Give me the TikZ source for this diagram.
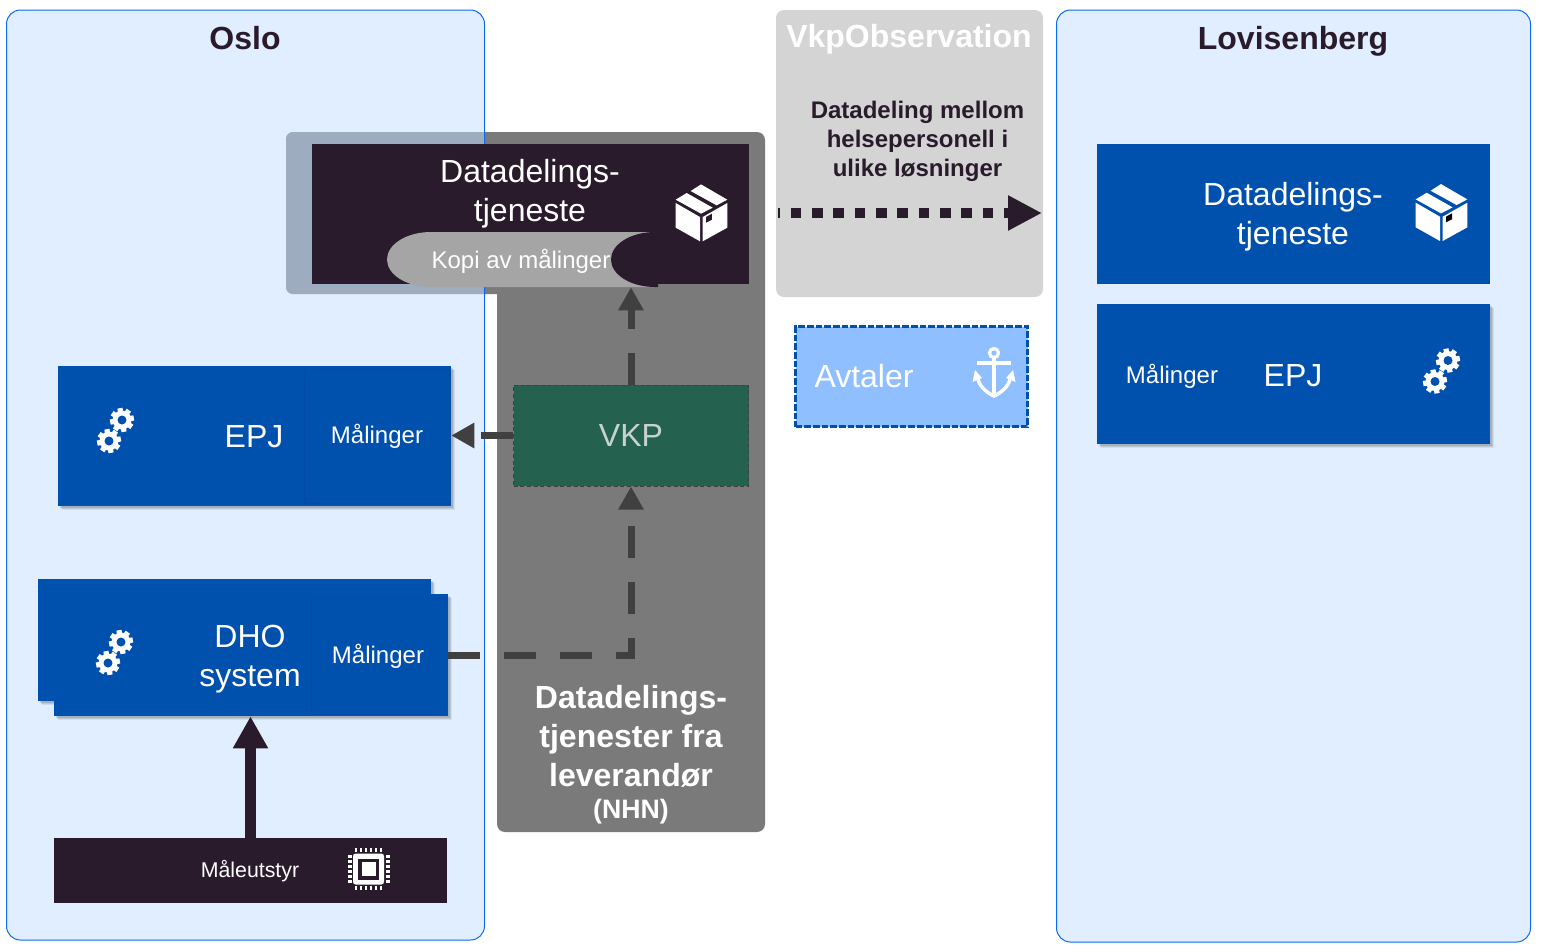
\documentclass[tikz,border=0pt]{standalone}
\usepackage{fontspec}
\setmainfont{Liberation Sans}
\usetikzlibrary{arrows.meta, shadows}
\definecolor{zonefill}{HTML}{E0EEFF}
\definecolor{zoneline}{HTML}{0A6CEB}
\definecolor{sysblue}{HTML}{0050AE}
\definecolor{sysline}{HTML}{004CA6}
\definecolor{darkplum}{HTML}{291B2C}
\definecolor{panelgray}{HTML}{7A7A7A}
\definecolor{panelblue}{HTML}{9DADBF}
\definecolor{obsgray}{HTML}{D4D4D4}
\definecolor{pillgray}{HTML}{A5A5A5}
\definecolor{vkpgreen}{HTML}{25614F}
\definecolor{vkptext}{HTML}{C6D2CD}
\definecolor{agreeblue}{HTML}{90BFFF}
\definecolor{flowgray}{HTML}{404040}
\newcommand{\bigtxt}{\fontsize{24}{29.25}\selectfont}
\newcommand{\midtxt}{\fontsize{18}{21.75}\selectfont}
\tikzset{%
  sysbox/.style={fill=sysblue, minimum width=#1*0.75pt, inner sep=0pt,
                 drop shadow={shadow xshift=3pt, shadow yshift=-3pt, fill=black, opacity=0.07},
                 drop shadow={shadow xshift=2.2pt, shadow yshift=-2.2pt, fill=black, opacity=0.09},
                 drop shadow={shadow xshift=1.4pt, shadow yshift=-1.4pt, fill=black, opacity=0.12}},
  subbox/.style={draw=sysline, line width=0.4pt, inner sep=0pt, text=white, font=\midtxt},
  zonetitle/.style={font=\bigtxt\bfseries, text=darkplum},
  bigwhite/.style={font=\bigtxt, text=white, align=center},
  midwhite/.style={font=\midtxt, text=white},
  flow/.style={line width=5.25pt, flowgray, dash pattern=on 24pt off 18pt,
               -{Triangle[length=17.25pt, width=18pt]}},
  % icons, sizes in the pixels of the sheet
  gear/.pic={
    \fill[white] (0,0) circle (9.5);
    \foreach \a in {0,45,...,315}
      \fill[white, rotate=\a+10] (-2.6,-12) rectangle (2.6,0);
    \fill[sysblue] (0,0) circle (4.5);
  },
  gearpair/.pic={
    \pic at (6.5,-10.5) {gear};
    \pic at (-6.5,10.5) {gear};
  },
  parcel/.pic={
    \begin{scope}[scale=0.333]
      \fill[white] (0,-86) -- (79,-40) -- (47,-23) -- (-31,-66) -- cycle;
      \fill[white] (-43,-60) -- (35,-16) -- (0,2) -- (-76,-40) -- cycle;
      \fill[white] (-76,-30) -- (-3,12) -- (-3,85) -- (-76,44) -- cycle;
      \fill[white] (5,12) -- (79,-30) -- (79,44) -- (5,85) -- cycle;
      \fill[#1] (15,12) -- (33,2) -- (33,20) -- (15,29) -- cycle;
    \end{scope}
  },
  parcel/.default=sysblue,
  chip/.pic={
    \fill[white, rounded corners=2] (-15.5,-15.5) rectangle (15.5,15.5);
    \fill[darkplum] (-10.5,-10.5) rectangle (10.5,10.5);
    \fill[white] (-7,-7) rectangle (7,7);
    \foreach \p in {-12.5,-7.5,-2.5,2.5,7.5,12.5} {
      \fill[white] (\p-1.2,-21) rectangle (\p+1.2,-17);
      \fill[white] (\p-1.2,17) rectangle (\p+1.2,21);
      \fill[white] (-21,\p-1.2) rectangle (-17,\p+1.2);
      \fill[white] (17,\p-1.2) rectangle (21,\p+1.2);
    }
  },
  anchorsign/.pic={
    \draw[white, line width=2.4pt] (0,-20) circle (4.5);
    \draw[white, line width=2.4pt] (-17,-10) -- (17,-10);
    \draw[white, line width=2.4pt] (0,-15) -- (0,22);
    \draw[white, line width=2.6pt] (-16,6) .. controls (-14,15) and (-6,20) .. (0,23)
                                           .. controls (6,20) and (14,15) .. (16,6);
    \fill[white] (-19,-3) -- (-21.5,9) -- (-12,5) -- cycle;
    \fill[white] (19,-3) -- (21.5,9) -- (12,5) -- cycle;
  },
}

\begin{document}
\begin{tikzpicture}[x=0.75pt, y=-0.75pt]
\useasboundingbox (0,0) rectangle (1546,951);

% zones
\fill[zonefill, rounded corners=10.5pt] (6.5,10) rectangle (484.5,940);
\fill[zonefill, rounded corners=10.5pt] (1056.5,10) rectangle (1530.5,942);
\draw[zoneline, line width=0.75pt, rounded corners=10.5pt] (1056.5,10) rectangle (1530.5,942);

% supplier panel, lighter where it lies on the Oslo zone
\fill[panelgray] (484.5,132) [rounded corners=6pt] -- (765,132) -- (765,832) -- (497,832)
  [sharp corners] -- (497,294) -- (484.5,294) -- cycle;
\fill[panelblue] (484.5,132) [rounded corners=5pt] -- (286,132) -- (286,294)
  [sharp corners] -- (484.5,294) -- cycle;
\draw[zoneline, line width=0.75pt, rounded corners=10.5pt] (6.5,10) rectangle (484.5,940);
\node[font=\fontsize{24}{29.25}\selectfont\bfseries, text=white, align=center] (supplier) at (631,736)
  {Datadelings-\\tjenester fra\\leverandør};
\node[font=\fontsize{20}{24}\selectfont\bfseries, text=white] (nhn) at (631,811.5) {(NHN)};

% observation panel
\fill[obsgray, rounded corners=6pt] (776,10) rectangle (1043,297);
\node[font=\bigtxt\bfseries, text=white] (obs) at (909,39) {VkpObservation};
\node[font=\fontsize{18}{21.75}\selectfont\bfseries, text=darkplum, align=center] (obstext) at (917.5,141)
  {Datadeling mellom\\helsepersonell i\\ulike løsninger};

% titles
\node[zonetitle] (oslo) at (245,38) {Oslo};
\node[zonetitle] (lovisenberg) at (1293,41) {Lovisenberg};

% boxes
\node[fill=darkplum, inner sep=0pt, minimum width=437*0.75pt, minimum height=140*0.75pt] (data) at (530.5,214) {};
\fill[pillgray] (654,232) -- (431,232) arc[start angle=270, end angle=90, x radius=44, y radius=27.5] -- (654,287) -- cycle;
\fill[darkplum] (658,232) -- (655,232) arc[start angle=270, end angle=90, x radius=44, y radius=27.5] -- (658,287) -- cycle;
\node[bigwhite] (datatext) at (530,193.5) {Datadelings-\\tjeneste};
\node[midwhite, minimum height=51*0.75pt, inner sep=0pt] (kopi) at (521,261.5) {Kopi av målinger};
\pic at (701,213) {parcel=darkplum};

\node[sysbox=393, minimum height=140*0.75pt] (epj) at (254.5,436) {};
\node[subbox, minimum width=146*0.75pt, minimum height=134*0.75pt] (epjmaal) at (377,436) {Målinger};
\node[bigwhite] (epjtext) at (254,436.5) {EPJ};
\pic at (115.5,430.5) {gearpair};

\node[sysbox=393, minimum height=122*0.75pt] (dhoback) at (234.5,640) {};
\node[sysbox=394, minimum height=122*0.75pt] (dho) at (251,655) {};
\node[subbox, minimum width=134*0.75pt, minimum height=116*0.75pt] (dhomaal) at (378,656) {Målinger};
\node[bigwhite] (dhotext) at (250,659.5) {DHO\\system};
\pic at (114.5,652.5) {gearpair};

\node[fill=darkplum, inner sep=0pt, minimum width=393*0.75pt, minimum height=65*0.75pt] (maale) at (250.5,870.5) {};
\node[font=\fontsize{16}{19}\selectfont, text=white] (maaletext) at (250,871.5) {Måleutstyr};
\pic at (368.5,869) {chip};

\node[fill=vkpgreen, draw=flowgray, densely dashed, line width=0.75pt, inner sep=0pt,
      minimum width=235*0.75pt, minimum height=101*0.75pt, font=\bigtxt, text=vkptext] (vkp) at (631,435.5) {VKP};

\node[fill=sysblue, inner sep=0pt, minimum width=393*0.75pt, minimum height=140*0.75pt] (lovdata) at (1293.5,214) {};
\node[bigwhite] (lovdatatext) at (1293,217) {Datadelings-\\tjeneste};
\pic at (1441,212.7) {parcel};

\node[sysbox=393, minimum height=140*0.75pt] (lovepj) at (1293.5,374) {};
\node[midwhite] (lovmaal) at (1172,376) {Målinger};
\node[bigwhite] (lovepjtext) at (1293,375.5) {EPJ};
\pic at (1441.5,371) {gearpair};

\node[fill=agreeblue, draw=sysblue, dash pattern=on 5pt off 1.5pt, line width=2.25pt, inner sep=0pt,
      minimum width=232*0.75pt, minimum height=100*0.75pt] (avtaler) at (911.5,376.5) {};
\node[font=\bigtxt, text=white] (avtalertext) at (864,376) {Avtaler};
\pic at (994,373) {anchorsign};

% flows
\coordinate (dotstart) at (778,213);
\coordinate (dotend) at (1042,213);
\draw[flow] (vkp.north) -- (vkp.north |- kopi.south);
\draw[flow] (vkp.west) -- (vkp.west -| epj.east);
\draw[flow] (dho.east) -| (vkp.south);
\draw[line width=8.25pt, darkplum, -{Triangle[length=24pt, width=24.75pt]}] (maale.north) -- (maale.north |- dho.south);
\draw[line width=7.5pt, darkplum, dash pattern=on 8pt off 8pt, dash phase=6.5pt,
      -{Triangle[length=25.5pt, width=24.75pt]}] (dotstart) -- (dotend);

\end{tikzpicture}
\end{document}
